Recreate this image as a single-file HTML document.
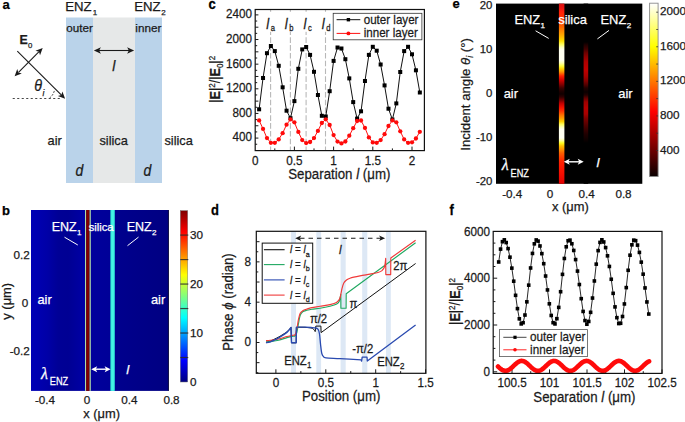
<!DOCTYPE html>
<html><head><meta charset="utf-8"><style>
html,body{margin:0;padding:0;background:#fff;width:685px;height:422px;overflow:hidden}
svg{display:block}
text{font-family:"Liberation Sans", sans-serif;paint-order:stroke;stroke:currentColor;stroke-width:0.25px}
</style></head><body>
<svg width="685" height="422" viewBox="0 0 685 422">
<defs>
<linearGradient id="bbg" x1="31" y1="0" x2="168.6" y2="0" gradientUnits="userSpaceOnUse">
<stop offset="0.0000" stop-color="#0000b6"/><stop offset="0.0509" stop-color="#0000b0"/><stop offset="0.1235" stop-color="#0000a6"/><stop offset="0.1962" stop-color="#000096"/><stop offset="0.2689" stop-color="#000093"/><stop offset="0.3416" stop-color="#00009e"/><stop offset="0.3924" stop-color="#0000a6"/><stop offset="0.4360" stop-color="#00009c"/><stop offset="0.5741" stop-color="#000098"/><stop offset="0.6105" stop-color="#00008e"/><stop offset="0.7922" stop-color="#000088"/><stop offset="1.0000" stop-color="#000082"/></linearGradient>
<linearGradient id="jet" x1="0" y1="1" x2="0" y2="0">
<stop offset="0" stop-color="#00007f"/><stop offset="0.125" stop-color="#0000ff"/><stop offset="0.375" stop-color="#00ffff"/>
<stop offset="0.625" stop-color="#ffff00"/><stop offset="0.875" stop-color="#ff0000"/><stop offset="1" stop-color="#7f0000"/></linearGradient>
<linearGradient id="hot" x1="0" y1="1" x2="0" y2="0">
<stop offset="0" stop-color="#0a0000"/><stop offset="0.375" stop-color="#ff0000"/><stop offset="0.75" stop-color="#ffff00"/><stop offset="1" stop-color="#ffffff"/></linearGradient>
<linearGradient id="es1" x1="0" y1="3.6" x2="0" y2="183.8" gradientUnits="userSpaceOnUse"><stop offset="0.0000" stop-color="#d81010"/><stop offset="0.0244" stop-color="#e81410"/><stop offset="0.0466" stop-color="#ff2008"/><stop offset="0.0744" stop-color="#ff3000"/><stop offset="0.1021" stop-color="#ff4800"/><stop offset="0.1243" stop-color="#ff6000"/><stop offset="0.1465" stop-color="#ff8000"/><stop offset="0.1798" stop-color="#ffb000"/><stop offset="0.2075" stop-color="#ffe000"/><stop offset="0.2270" stop-color="#ffff60"/><stop offset="0.2436" stop-color="#ffffc0"/><stop offset="0.2575" stop-color="#fffff0"/><stop offset="0.3130" stop-color="#fffff0"/><stop offset="0.3296" stop-color="#ffffb0"/><stop offset="0.3463" stop-color="#ffff40"/><stop offset="0.3629" stop-color="#ffd000"/><stop offset="0.3796" stop-color="#ff9000"/><stop offset="0.4018" stop-color="#ff2000"/><stop offset="0.4240" stop-color="#d00000"/><stop offset="0.4495" stop-color="#800000"/><stop offset="0.4684" stop-color="#400000"/><stop offset="0.4850" stop-color="#200000"/><stop offset="0.5017" stop-color="#100000"/><stop offset="0.5183" stop-color="#300000"/><stop offset="0.5350" stop-color="#700000"/><stop offset="0.5533" stop-color="#c00000"/><stop offset="0.5760" stop-color="#f01000"/><stop offset="0.5960" stop-color="#ff3000"/><stop offset="0.6182" stop-color="#ff7000"/><stop offset="0.6382" stop-color="#ffa000"/><stop offset="0.6543" stop-color="#ffd000"/><stop offset="0.6709" stop-color="#ffff60"/><stop offset="0.6865" stop-color="#ffffc0"/><stop offset="0.6987" stop-color="#fffff0"/><stop offset="0.7458" stop-color="#fffff0"/><stop offset="0.7597" stop-color="#ffffa0"/><stop offset="0.7736" stop-color="#ffff20"/><stop offset="0.7902" stop-color="#ffc000"/><stop offset="0.8097" stop-color="#ff9000"/><stop offset="0.8291" stop-color="#ff6000"/><stop offset="0.8513" stop-color="#ff4000"/><stop offset="0.8790" stop-color="#ff2000"/><stop offset="0.9345" stop-color="#f81000"/><stop offset="1.0000" stop-color="#e00000"/></linearGradient>
<linearGradient id="es2" x1="0" y1="3.6" x2="0" y2="183.8" gradientUnits="userSpaceOnUse"><stop offset="0.0000" stop-color="#000000"/><stop offset="0.2131" stop-color="#000000"/><stop offset="0.2297" stop-color="#200000"/><stop offset="0.2519" stop-color="#400000"/><stop offset="0.2741" stop-color="#700000"/><stop offset="0.2963" stop-color="#900000"/><stop offset="0.3241" stop-color="#b00000"/><stop offset="0.3685" stop-color="#c00000"/><stop offset="0.4018" stop-color="#a80000"/><stop offset="0.4295" stop-color="#800000"/><stop offset="0.4517" stop-color="#500000"/><stop offset="0.4684" stop-color="#200000"/><stop offset="0.4906" stop-color="#0a0000"/><stop offset="0.5072" stop-color="#200000"/><stop offset="0.5239" stop-color="#600000"/><stop offset="0.5461" stop-color="#a00000"/><stop offset="0.5794" stop-color="#b40000"/><stop offset="0.6127" stop-color="#a80000"/><stop offset="0.6349" stop-color="#800000"/><stop offset="0.6626" stop-color="#600000"/><stop offset="0.6903" stop-color="#400000"/><stop offset="0.7236" stop-color="#200000"/><stop offset="0.7514" stop-color="#100000"/><stop offset="0.7736" stop-color="#000000"/><stop offset="1.0000" stop-color="#000000"/></linearGradient>

</defs>
<text transform="translate(2.5 8.6) scale(1.0000 1)" font-size="13.00" text-anchor="start" font-weight="bold" font-style="normal" fill="#000" color="#000">a</text>
<rect x="66" y="17.5" width="27" height="165.5" fill="#bad3ea" stroke="none" stroke-width="1"/>
<rect x="93" y="17.5" width="42" height="165.5" fill="#e6e8e8" stroke="none" stroke-width="1"/>
<rect x="135" y="17.5" width="27" height="165.5" fill="#bad3ea" stroke="none" stroke-width="1"/>
<text transform="translate(65.2 10.8) scale(1.0000 1)" font-size="13.20" text-anchor="start" font-weight="normal" font-style="normal" fill="#1a1a1a" color="#1a1a1a">ENZ<tspan font-size="8.00" dy="3.8" dx="1.1">1</tspan></text>
<text transform="translate(134.2 10.8) scale(1.0000 1)" font-size="13.20" text-anchor="start" font-weight="normal" font-style="normal" fill="#1a1a1a" color="#1a1a1a">ENZ<tspan font-size="8.00" dy="3.8" dx="0.6">2</tspan></text>
<text transform="translate(66.3 31.6) scale(1.0000 1)" font-size="11.70" text-anchor="start" font-weight="normal" font-style="normal" fill="#1a1a1a" color="#1a1a1a">outer</text>
<text transform="translate(135.3 31.6) scale(1.0000 1)" font-size="11.70" text-anchor="start" font-weight="normal" font-style="normal" fill="#1a1a1a" color="#1a1a1a">inner</text>
<line x1="99" y1="50.5" x2="129" y2="50.5" stroke="#1a1a1a" stroke-width="1.1"/>
<path d="M93.90,50.50 L100.90,47.30 L99.15,50.50 L100.90,53.70 Z" fill="#1a1a1a"/>
<path d="M134.10,50.50 L127.10,53.70 L128.85,50.50 L127.10,47.30 Z" fill="#1a1a1a"/>
<text transform="translate(112.3 71.0) scale(1.0000 1)" font-size="14.00" text-anchor="start" font-weight="normal" font-style="italic" fill="#1a1a1a" color="#1a1a1a">l</text>
<line x1="17.3" y1="51.1" x2="61.5" y2="95.2" stroke="#1a1a1a" stroke-width="1.1"/>
<path d="M65.10,98.80 L57.88,96.12 L61.38,95.09 L62.41,91.59 Z" fill="#1a1a1a"/>
<line x1="18.5" y1="72.3" x2="38.8" y2="51.9" stroke="#1a1a1a" stroke-width="1.1"/>
<path d="M42.70,48.00 L40.03,55.22 L38.99,51.72 L35.49,50.70 Z" fill="#1a1a1a"/>
<path d="M14.60,76.20 L17.27,68.98 L18.31,72.48 L21.81,73.50 Z" fill="#1a1a1a"/>
<line x1="12.7" y1="98.5" x2="60" y2="98.5" stroke="#333" stroke-width="0.9" stroke-dasharray="2.1,2.4"/>
<path d="M49.6,98 Q53.2,95.2 54.4,90.6" fill="none" stroke="#333" stroke-width="0.9" stroke-linejoin="round" stroke-dasharray="2.0,1.3"/>
<text transform="translate(19.6 44.0) scale(1.0000 1)" font-size="12.40" text-anchor="start" font-weight="bold" font-style="normal" fill="#1a1a1a" color="#1a1a1a">E</text>
<text transform="translate(28.1 48.4) scale(1.0000 1)" font-size="7.80" text-anchor="start" font-weight="normal" font-style="normal" fill="#1a1a1a" color="#1a1a1a">0</text>
<text transform="translate(34.2 90.6) scale(0.8929 1)" font-size="16.02" text-anchor="start" font-weight="normal" font-style="italic" fill="#1a1a1a" color="#1a1a1a">θ</text>
<text transform="translate(42.6 95.8) scale(1.0000 1)" font-size="8.50" text-anchor="start" font-weight="normal" font-style="italic" fill="#1a1a1a" color="#1a1a1a">i</text>
<text transform="translate(47.6 145.2) scale(1.0000 1)" font-size="12.80" text-anchor="start" font-weight="normal" font-style="normal" fill="#1a1a1a" color="#1a1a1a">air</text>
<text transform="translate(99.4 145.2) scale(1.0000 1)" font-size="12.80" text-anchor="start" font-weight="normal" font-style="normal" fill="#1a1a1a" color="#1a1a1a">silica</text>
<text transform="translate(164.4 145.2) scale(1.0000 1)" font-size="12.80" text-anchor="start" font-weight="normal" font-style="normal" fill="#1a1a1a" color="#1a1a1a">silica</text>
<text transform="translate(75.6 175.5) scale(0.8929 1)" font-size="15.68" text-anchor="start" font-weight="normal" font-style="italic" fill="#1a1a1a" color="#1a1a1a">d</text>
<text transform="translate(143.6 175.5) scale(0.8929 1)" font-size="15.68" text-anchor="start" font-weight="normal" font-style="italic" fill="#1a1a1a" color="#1a1a1a">d</text>
<text transform="translate(1.9 215.4) scale(1.0000 1)" font-size="13.00" text-anchor="start" font-weight="bold" font-style="normal" fill="#000" color="#000">b</text>
<rect x="31" y="210" width="137.6" height="180.9" fill="url(#bbg)" stroke="none" stroke-width="1"/>
<rect x="85" y="210" width="1.2" height="180.9" fill="#b0dca8" stroke="none" stroke-width="1"/>
<rect x="86.2" y="210" width="3.4" height="180.9" fill="#800000" stroke="none" stroke-width="1"/>
<rect x="89.6" y="210" width="1.2" height="180.9" fill="#b0dca8" stroke="none" stroke-width="1"/>
<rect x="110.4" y="210" width="4.4" height="180.9" fill="#30e6d6" stroke="none" stroke-width="1"/>
<rect x="111.4" y="210" width="2.4" height="180.9" fill="#44f4e4" stroke="none" stroke-width="1"/>
<text transform="translate(51.7 230.8) scale(1.0000 1)" font-size="12.50" text-anchor="start" font-weight="normal" font-style="normal" fill="#ffffff" color="#ffffff">ENZ<tspan font-size="8.00" dy="4.3" dx="0.4">1</tspan></text>
<text transform="translate(88.7 230.6) scale(1.0000 1)" font-size="11.20" text-anchor="start" font-weight="normal" font-style="normal" fill="#ffffff" color="#ffffff">silica</text>
<text transform="translate(126.7 230.6) scale(1.0000 1)" font-size="12.50" text-anchor="start" font-weight="normal" font-style="normal" fill="#ffffff" color="#ffffff">ENZ<tspan font-size="8.00" dy="4.3" dx="0.4">2</tspan></text>
<line x1="64.5" y1="237.2" x2="77.8" y2="245" stroke="#ffffff" stroke-width="1"/>
<line x1="138.5" y1="237.1" x2="127.5" y2="245.7" stroke="#ffffff" stroke-width="1"/>
<text transform="translate(37.5 304.2) scale(1.0000 1)" font-size="12.80" text-anchor="start" font-weight="normal" font-style="normal" fill="#ffffff" color="#ffffff">air</text>
<text transform="translate(151 304.2) scale(1.0000 1)" font-size="12.80" text-anchor="start" font-weight="normal" font-style="normal" fill="#ffffff" color="#ffffff">air</text>
<text transform="translate(41.0 378.9) scale(1.0000 1)" font-size="16.00" text-anchor="start" font-weight="normal" font-style="italic" fill="#ffffff" color="#ffffff" style="font-family:Liberation Serif">λ</text>
<text transform="translate(49.8 384.5) scale(0.8696 1)" font-size="10.58" text-anchor="start" font-weight="normal" font-style="normal" fill="#ffffff" color="#ffffff">ENZ</text>
<line x1="95" y1="369.2" x2="107" y2="369.2" stroke="#ffffff" stroke-width="1.4"/>
<path d="M91.20,369.20 L97.20,366.20 L95.70,369.20 L97.20,372.20 Z" fill="#ffffff"/>
<path d="M110.60,369.20 L104.60,372.20 L106.10,369.20 L104.60,366.20 Z" fill="#ffffff"/>
<text transform="translate(126.2 374.2) scale(1.0000 1)" font-size="13.50" text-anchor="start" font-weight="normal" font-style="italic" fill="#ffffff" color="#ffffff">l</text>
<rect x="180.3" y="210.6" width="7.4" height="171.4" fill="url(#jet)" stroke="#777" stroke-width="0.5"/>
<line x1="168.4" y1="210" x2="168.4" y2="390.9" stroke="#000030" stroke-width="0.9"/>
<line x1="180.3" y1="357.51428571428573" x2="188.3" y2="357.51428571428573" stroke="#2a2a2a" stroke-width="1.2" stroke-opacity="0.85"/>
<line x1="180.3" y1="333.0285714285714" x2="188.3" y2="333.0285714285714" stroke="#2a2a2a" stroke-width="1.2" stroke-opacity="0.85"/>
<line x1="180.3" y1="308.54285714285714" x2="188.3" y2="308.54285714285714" stroke="#2a2a2a" stroke-width="1.2" stroke-opacity="0.85"/>
<line x1="180.3" y1="284.0571428571429" x2="188.3" y2="284.0571428571429" stroke="#2a2a2a" stroke-width="1.2" stroke-opacity="0.85"/>
<line x1="180.3" y1="259.57142857142856" x2="188.3" y2="259.57142857142856" stroke="#2a2a2a" stroke-width="1.2" stroke-opacity="0.85"/>
<line x1="180.3" y1="235.0857142857143" x2="188.3" y2="235.0857142857143" stroke="#2a2a2a" stroke-width="1.2" stroke-opacity="0.85"/>
<text transform="translate(190 386.2) scale(1.0000 1)" font-size="11.70" text-anchor="start" font-weight="normal" font-style="normal" fill="#1a1a1a" color="#1a1a1a">0</text>
<text transform="translate(190 337.2285714285714) scale(1.0000 1)" font-size="11.70" text-anchor="start" font-weight="normal" font-style="normal" fill="#1a1a1a" color="#1a1a1a">10</text>
<text transform="translate(190 288.25714285714287) scale(1.0000 1)" font-size="11.70" text-anchor="start" font-weight="normal" font-style="normal" fill="#1a1a1a" color="#1a1a1a">20</text>
<text transform="translate(190 239.28571428571428) scale(1.0000 1)" font-size="11.70" text-anchor="start" font-weight="normal" font-style="normal" fill="#1a1a1a" color="#1a1a1a">30</text>
<text transform="translate(29.8 259.1) scale(1.0000 1)" font-size="11.70" text-anchor="end" font-weight="normal" font-style="normal" fill="#1a1a1a" color="#1a1a1a">0.2</text>
<text transform="translate(28.3 307.2) scale(1.0000 1)" font-size="11.70" text-anchor="end" font-weight="normal" font-style="normal" fill="#1a1a1a" color="#1a1a1a">0</text>
<text transform="translate(29.8 355.2) scale(1.0000 1)" font-size="11.70" text-anchor="end" font-weight="normal" font-style="normal" fill="#1a1a1a" color="#1a1a1a">-0.2</text>
<text transform="translate(45 404.2) scale(1.0000 1)" font-size="11.70" text-anchor="middle" font-weight="normal" font-style="normal" fill="#1a1a1a" color="#1a1a1a">-0.4</text>
<text transform="translate(87 404.2) scale(1.0000 1)" font-size="11.70" text-anchor="middle" font-weight="normal" font-style="normal" fill="#1a1a1a" color="#1a1a1a">0</text>
<text transform="translate(129.3 404.2) scale(1.0000 1)" font-size="11.70" text-anchor="middle" font-weight="normal" font-style="normal" fill="#1a1a1a" color="#1a1a1a">0.4</text>
<text transform="translate(171.5 404.2) scale(1.0000 1)" font-size="11.70" text-anchor="middle" font-weight="normal" font-style="normal" fill="#1a1a1a" color="#1a1a1a">0.8</text>
<text transform="translate(83.2 417.8) scale(1.0000 1)" font-size="12.90" text-anchor="start" font-weight="normal" font-style="normal" fill="#1a1a1a" color="#1a1a1a">x (μm)</text>
<text transform="translate(11.2 301.3) rotate(-90) scale(1.0000 1)" font-size="12.90" text-anchor="middle" font-weight="normal" font-style="normal" fill="#1a1a1a" color="#1a1a1a">y (μm)</text>
<text transform="translate(208.5 8.7) scale(0.9091 1)" font-size="14.30" text-anchor="start" font-weight="bold" font-style="normal" fill="#000" color="#000">c</text>
<line x1="270.6" y1="10.1" x2="270.6" y2="150.6" stroke="#b8b8b8" stroke-width="1.1" stroke-dasharray="5.6,2.2" stroke-dashoffset="4.0"/>
<rect x="269.1" y="12.6" width="3" height="19.2" fill="#fff" stroke="none" stroke-width="1"/>
<line x1="290.4" y1="10.1" x2="290.4" y2="150.6" stroke="#b8b8b8" stroke-width="1.1" stroke-dasharray="5.6,2.2" stroke-dashoffset="4.0"/>
<rect x="288.9" y="12.6" width="3" height="19.2" fill="#fff" stroke="none" stroke-width="1"/>
<line x1="306.1" y1="10.1" x2="306.1" y2="150.6" stroke="#b8b8b8" stroke-width="1.1" stroke-dasharray="5.6,2.2" stroke-dashoffset="4.0"/>
<rect x="304.6" y="12.6" width="3" height="19.2" fill="#fff" stroke="none" stroke-width="1"/>
<line x1="325.5" y1="10.1" x2="325.5" y2="150.6" stroke="#b8b8b8" stroke-width="1.1" stroke-dasharray="5.6,2.2" stroke-dashoffset="4.0"/>
<rect x="324.0" y="12.6" width="3" height="19.2" fill="#fff" stroke="none" stroke-width="1"/>
<line x1="255.2" y1="144.24" x2="257.2" y2="144.24" stroke="#1a1a1a" stroke-width="1"/>
<line x1="255.2" y1="138.08" x2="258.4" y2="138.08" stroke="#1a1a1a" stroke-width="1"/>
<line x1="255.2" y1="131.92000000000002" x2="257.2" y2="131.92000000000002" stroke="#1a1a1a" stroke-width="1"/>
<line x1="255.2" y1="125.76" x2="258.4" y2="125.76" stroke="#1a1a1a" stroke-width="1"/>
<line x1="255.2" y1="119.60000000000001" x2="257.2" y2="119.60000000000001" stroke="#1a1a1a" stroke-width="1"/>
<line x1="255.2" y1="113.44" x2="258.4" y2="113.44" stroke="#1a1a1a" stroke-width="1"/>
<line x1="255.2" y1="107.28" x2="257.2" y2="107.28" stroke="#1a1a1a" stroke-width="1"/>
<line x1="255.2" y1="101.12" x2="258.4" y2="101.12" stroke="#1a1a1a" stroke-width="1"/>
<line x1="255.2" y1="94.96000000000001" x2="257.2" y2="94.96000000000001" stroke="#1a1a1a" stroke-width="1"/>
<line x1="255.2" y1="88.80000000000001" x2="258.4" y2="88.80000000000001" stroke="#1a1a1a" stroke-width="1"/>
<line x1="255.2" y1="82.64" x2="257.2" y2="82.64" stroke="#1a1a1a" stroke-width="1"/>
<line x1="255.2" y1="76.48" x2="258.4" y2="76.48" stroke="#1a1a1a" stroke-width="1"/>
<line x1="255.2" y1="70.32000000000001" x2="257.2" y2="70.32000000000001" stroke="#1a1a1a" stroke-width="1"/>
<line x1="255.2" y1="64.16" x2="258.4" y2="64.16" stroke="#1a1a1a" stroke-width="1"/>
<line x1="255.2" y1="58.0" x2="257.2" y2="58.0" stroke="#1a1a1a" stroke-width="1"/>
<line x1="255.2" y1="51.84" x2="258.4" y2="51.84" stroke="#1a1a1a" stroke-width="1"/>
<line x1="255.2" y1="45.68000000000001" x2="257.2" y2="45.68000000000001" stroke="#1a1a1a" stroke-width="1"/>
<line x1="255.2" y1="39.519999999999996" x2="258.4" y2="39.519999999999996" stroke="#1a1a1a" stroke-width="1"/>
<line x1="255.2" y1="33.36" x2="257.2" y2="33.36" stroke="#1a1a1a" stroke-width="1"/>
<line x1="255.2" y1="27.200000000000003" x2="258.4" y2="27.200000000000003" stroke="#1a1a1a" stroke-width="1"/>
<line x1="255.2" y1="21.039999999999992" x2="257.2" y2="21.039999999999992" stroke="#1a1a1a" stroke-width="1"/>
<line x1="255.2" y1="14.879999999999995" x2="258.4" y2="14.879999999999995" stroke="#1a1a1a" stroke-width="1"/>
<line x1="274.8" y1="150.6" x2="274.8" y2="148.4" stroke="#1a1a1a" stroke-width="1"/>
<line x1="294.4" y1="150.6" x2="294.4" y2="146.6" stroke="#1a1a1a" stroke-width="1"/>
<line x1="314.0" y1="150.6" x2="314.0" y2="148.4" stroke="#1a1a1a" stroke-width="1"/>
<line x1="333.6" y1="150.6" x2="333.6" y2="146.6" stroke="#1a1a1a" stroke-width="1"/>
<line x1="353.2" y1="150.6" x2="353.2" y2="148.4" stroke="#1a1a1a" stroke-width="1"/>
<line x1="372.8" y1="150.6" x2="372.8" y2="146.6" stroke="#1a1a1a" stroke-width="1"/>
<line x1="392.4" y1="150.6" x2="392.4" y2="148.4" stroke="#1a1a1a" stroke-width="1"/>
<line x1="412.0" y1="150.6" x2="412.0" y2="146.6" stroke="#1a1a1a" stroke-width="1"/>
<text transform="translate(251.9 141.48000000000002) scale(0.9091 1)" font-size="12.87" text-anchor="end" font-weight="normal" font-style="normal" fill="#1a1a1a" color="#1a1a1a">400</text>
<text transform="translate(251.9 116.84) scale(0.9091 1)" font-size="12.87" text-anchor="end" font-weight="normal" font-style="normal" fill="#1a1a1a" color="#1a1a1a">800</text>
<text transform="translate(251.9 92.20000000000002) scale(0.9091 1)" font-size="12.87" text-anchor="end" font-weight="normal" font-style="normal" fill="#1a1a1a" color="#1a1a1a">1200</text>
<text transform="translate(251.9 67.56) scale(0.9091 1)" font-size="12.87" text-anchor="end" font-weight="normal" font-style="normal" fill="#1a1a1a" color="#1a1a1a">1600</text>
<text transform="translate(251.9 42.919999999999995) scale(0.9091 1)" font-size="12.87" text-anchor="end" font-weight="normal" font-style="normal" fill="#1a1a1a" color="#1a1a1a">2000</text>
<text transform="translate(251.9 18.279999999999994) scale(0.9091 1)" font-size="12.87" text-anchor="end" font-weight="normal" font-style="normal" fill="#1a1a1a" color="#1a1a1a">2400</text>
<text transform="translate(255.2 165.3) scale(0.9091 1)" font-size="12.87" text-anchor="middle" font-weight="normal" font-style="normal" fill="#1a1a1a" color="#1a1a1a">0</text>
<text transform="translate(294.4 165.3) scale(0.9091 1)" font-size="12.87" text-anchor="middle" font-weight="normal" font-style="normal" fill="#1a1a1a" color="#1a1a1a">0.5</text>
<text transform="translate(333.6 165.3) scale(0.9091 1)" font-size="12.87" text-anchor="middle" font-weight="normal" font-style="normal" fill="#1a1a1a" color="#1a1a1a">1</text>
<text transform="translate(372.8 165.3) scale(0.9091 1)" font-size="12.87" text-anchor="middle" font-weight="normal" font-style="normal" fill="#1a1a1a" color="#1a1a1a">1.5</text>
<text transform="translate(412.0 165.3) scale(0.9091 1)" font-size="12.87" text-anchor="middle" font-weight="normal" font-style="normal" fill="#1a1a1a" color="#1a1a1a">2</text>
<text transform="translate(288.2 178.8) scale(0.9091 1)" font-size="14.63" text-anchor="start" font-weight="normal" font-style="normal" fill="#1a1a1a" color="#1a1a1a">Separation <tspan font-style="italic">l</tspan> (μm)</text>
<text transform="translate(220.4 79.3) rotate(-90) scale(0.9091 1)" font-size="13.86" text-anchor="middle" font-weight="normal" font-style="normal" fill="#1a1a1a" color="#1a1a1a">|<tspan font-weight="bold">E</tspan>|<tspan font-size="8.80" dy="-5" dx="0">2</tspan><tspan dy="5">/|</tspan><tspan font-weight="bold">E</tspan><tspan font-size="8.80" dy="3" dx="0">0</tspan><tspan dy="-3">|</tspan><tspan font-size="8.80" dy="-5" dx="0">2</tspan></text>
<text transform="translate(266.3 28.7) scale(0.9091 1)" font-size="14.30" text-anchor="start" font-weight="normal" font-style="italic" fill="#1a1a1a" color="#1a1a1a">l</text>
<text transform="translate(270.8 30.8) scale(0.9091 1)" font-size="8.36" text-anchor="start" font-weight="normal" font-style="normal" fill="#1a1a1a" color="#1a1a1a">a</text>
<text transform="translate(284.8 28.7) scale(0.9091 1)" font-size="14.30" text-anchor="start" font-weight="normal" font-style="italic" fill="#1a1a1a" color="#1a1a1a">l</text>
<text transform="translate(289.3 30.8) scale(0.9091 1)" font-size="8.36" text-anchor="start" font-weight="normal" font-style="normal" fill="#1a1a1a" color="#1a1a1a">b</text>
<text transform="translate(303.6 28.7) scale(0.9091 1)" font-size="14.30" text-anchor="start" font-weight="normal" font-style="italic" fill="#1a1a1a" color="#1a1a1a">l</text>
<text transform="translate(308.1 30.8) scale(0.9091 1)" font-size="8.36" text-anchor="start" font-weight="normal" font-style="normal" fill="#1a1a1a" color="#1a1a1a">c</text>
<text transform="translate(321.7 28.7) scale(0.9091 1)" font-size="14.30" text-anchor="start" font-weight="normal" font-style="italic" fill="#1a1a1a" color="#1a1a1a">l</text>
<text transform="translate(326.2 30.8) scale(0.9091 1)" font-size="8.36" text-anchor="start" font-weight="normal" font-style="normal" fill="#1a1a1a" color="#1a1a1a">d</text>
<polyline points="259.12,109.30 263.04,78.00 266.96,53.20 270.88,46.00 274.80,51.10 278.72,65.80 282.64,87.30 286.56,110.70 290.48,118.20 294.40,101.10 298.32,68.80 302.24,49.40 306.16,47.00 310.08,54.90 314.00,71.80 317.92,95.00 321.84,115.80 325.76,116.50 329.68,91.20 333.60,60.90 337.52,47.50 341.44,48.50 345.36,59.20 349.28,78.40 353.20,102.10 357.12,118.60 361.04,111.30 364.96,81.00 368.88,54.90 372.80,46.80 376.72,50.70 380.64,64.50 384.56,85.40 388.48,108.70 392.40,119.50 396.32,103.40 400.24,72.00 404.16,51.10 408.08,46.80 412.00,54.30 415.92,70.30 419.84,92.50" fill="none" stroke="#111" stroke-width="1.0" stroke-linejoin="round"/>
<polyline points="259.12,120.40 263.04,128.90 266.96,138.10 270.88,142.80 274.80,142.80 278.72,139.40 282.64,133.20 286.56,124.70 290.48,119.40 294.40,122.30 298.32,131.90 302.24,140.10 306.16,143.10 310.08,142.00 314.00,138.10 317.92,130.90 321.84,123.00 325.76,119.30 329.68,125.00 333.60,135.10 337.52,141.60 341.44,143.40 345.36,141.50 349.28,135.70 353.20,128.20 357.12,121.00 361.04,120.50 364.96,127.90 368.88,137.40 372.80,142.40 376.72,142.80 380.64,140.10 384.56,134.20 388.48,126.00 392.40,120.40 396.32,122.30 400.24,131.30 404.16,139.40 408.08,142.80 412.00,142.30 415.92,138.50 419.84,131.80" fill="none" stroke="#ff1010" stroke-width="1.0" stroke-linejoin="round"/>
<rect x="257.12" y="107.3" width="4.0" height="4.0" fill="#000" stroke="none" stroke-width="1"/>
<rect x="261.03999999999996" y="76.0" width="4.0" height="4.0" fill="#000" stroke="none" stroke-width="1"/>
<rect x="264.96" y="51.2" width="4.0" height="4.0" fill="#000" stroke="none" stroke-width="1"/>
<rect x="268.88" y="44.0" width="4.0" height="4.0" fill="#000" stroke="none" stroke-width="1"/>
<rect x="272.8" y="49.1" width="4.0" height="4.0" fill="#000" stroke="none" stroke-width="1"/>
<rect x="276.71999999999997" y="63.8" width="4.0" height="4.0" fill="#000" stroke="none" stroke-width="1"/>
<rect x="280.64" y="85.3" width="4.0" height="4.0" fill="#000" stroke="none" stroke-width="1"/>
<rect x="284.56" y="108.7" width="4.0" height="4.0" fill="#000" stroke="none" stroke-width="1"/>
<rect x="288.48" y="116.2" width="4.0" height="4.0" fill="#000" stroke="none" stroke-width="1"/>
<rect x="292.4" y="99.1" width="4.0" height="4.0" fill="#000" stroke="none" stroke-width="1"/>
<rect x="296.32" y="66.8" width="4.0" height="4.0" fill="#000" stroke="none" stroke-width="1"/>
<rect x="300.24" y="47.4" width="4.0" height="4.0" fill="#000" stroke="none" stroke-width="1"/>
<rect x="304.15999999999997" y="45.0" width="4.0" height="4.0" fill="#000" stroke="none" stroke-width="1"/>
<rect x="308.08" y="52.9" width="4.0" height="4.0" fill="#000" stroke="none" stroke-width="1"/>
<rect x="312.0" y="69.8" width="4.0" height="4.0" fill="#000" stroke="none" stroke-width="1"/>
<rect x="315.92" y="93.0" width="4.0" height="4.0" fill="#000" stroke="none" stroke-width="1"/>
<rect x="319.84000000000003" y="113.8" width="4.0" height="4.0" fill="#000" stroke="none" stroke-width="1"/>
<rect x="323.76" y="114.5" width="4.0" height="4.0" fill="#000" stroke="none" stroke-width="1"/>
<rect x="327.68" y="89.2" width="4.0" height="4.0" fill="#000" stroke="none" stroke-width="1"/>
<rect x="331.6" y="58.9" width="4.0" height="4.0" fill="#000" stroke="none" stroke-width="1"/>
<rect x="335.52" y="45.5" width="4.0" height="4.0" fill="#000" stroke="none" stroke-width="1"/>
<rect x="339.44" y="46.5" width="4.0" height="4.0" fill="#000" stroke="none" stroke-width="1"/>
<rect x="343.36" y="57.2" width="4.0" height="4.0" fill="#000" stroke="none" stroke-width="1"/>
<rect x="347.28000000000003" y="76.4" width="4.0" height="4.0" fill="#000" stroke="none" stroke-width="1"/>
<rect x="351.2" y="100.1" width="4.0" height="4.0" fill="#000" stroke="none" stroke-width="1"/>
<rect x="355.12" y="116.6" width="4.0" height="4.0" fill="#000" stroke="none" stroke-width="1"/>
<rect x="359.04" y="109.3" width="4.0" height="4.0" fill="#000" stroke="none" stroke-width="1"/>
<rect x="362.96000000000004" y="79.0" width="4.0" height="4.0" fill="#000" stroke="none" stroke-width="1"/>
<rect x="366.88" y="52.9" width="4.0" height="4.0" fill="#000" stroke="none" stroke-width="1"/>
<rect x="370.8" y="44.8" width="4.0" height="4.0" fill="#000" stroke="none" stroke-width="1"/>
<rect x="374.72" y="48.7" width="4.0" height="4.0" fill="#000" stroke="none" stroke-width="1"/>
<rect x="378.64" y="62.5" width="4.0" height="4.0" fill="#000" stroke="none" stroke-width="1"/>
<rect x="382.56" y="83.4" width="4.0" height="4.0" fill="#000" stroke="none" stroke-width="1"/>
<rect x="386.48" y="106.7" width="4.0" height="4.0" fill="#000" stroke="none" stroke-width="1"/>
<rect x="390.4" y="117.5" width="4.0" height="4.0" fill="#000" stroke="none" stroke-width="1"/>
<rect x="394.32" y="101.4" width="4.0" height="4.0" fill="#000" stroke="none" stroke-width="1"/>
<rect x="398.24" y="70.0" width="4.0" height="4.0" fill="#000" stroke="none" stroke-width="1"/>
<rect x="402.15999999999997" y="49.1" width="4.0" height="4.0" fill="#000" stroke="none" stroke-width="1"/>
<rect x="406.08000000000004" y="44.8" width="4.0" height="4.0" fill="#000" stroke="none" stroke-width="1"/>
<rect x="410.0" y="52.3" width="4.0" height="4.0" fill="#000" stroke="none" stroke-width="1"/>
<rect x="413.92" y="68.3" width="4.0" height="4.0" fill="#000" stroke="none" stroke-width="1"/>
<rect x="417.84000000000003" y="90.5" width="4.0" height="4.0" fill="#000" stroke="none" stroke-width="1"/>
<circle cx="259.12" cy="120.40" r="2.15" fill="#ff0a0a"/>
<circle cx="263.04" cy="128.90" r="2.15" fill="#ff0a0a"/>
<circle cx="266.96" cy="138.10" r="2.15" fill="#ff0a0a"/>
<circle cx="270.88" cy="142.80" r="2.15" fill="#ff0a0a"/>
<circle cx="274.80" cy="142.80" r="2.15" fill="#ff0a0a"/>
<circle cx="278.72" cy="139.40" r="2.15" fill="#ff0a0a"/>
<circle cx="282.64" cy="133.20" r="2.15" fill="#ff0a0a"/>
<circle cx="286.56" cy="124.70" r="2.15" fill="#ff0a0a"/>
<circle cx="290.48" cy="119.40" r="2.15" fill="#ff0a0a"/>
<circle cx="294.40" cy="122.30" r="2.15" fill="#ff0a0a"/>
<circle cx="298.32" cy="131.90" r="2.15" fill="#ff0a0a"/>
<circle cx="302.24" cy="140.10" r="2.15" fill="#ff0a0a"/>
<circle cx="306.16" cy="143.10" r="2.15" fill="#ff0a0a"/>
<circle cx="310.08" cy="142.00" r="2.15" fill="#ff0a0a"/>
<circle cx="314.00" cy="138.10" r="2.15" fill="#ff0a0a"/>
<circle cx="317.92" cy="130.90" r="2.15" fill="#ff0a0a"/>
<circle cx="321.84" cy="123.00" r="2.15" fill="#ff0a0a"/>
<circle cx="325.76" cy="119.30" r="2.15" fill="#ff0a0a"/>
<circle cx="329.68" cy="125.00" r="2.15" fill="#ff0a0a"/>
<circle cx="333.60" cy="135.10" r="2.15" fill="#ff0a0a"/>
<circle cx="337.52" cy="141.60" r="2.15" fill="#ff0a0a"/>
<circle cx="341.44" cy="143.40" r="2.15" fill="#ff0a0a"/>
<circle cx="345.36" cy="141.50" r="2.15" fill="#ff0a0a"/>
<circle cx="349.28" cy="135.70" r="2.15" fill="#ff0a0a"/>
<circle cx="353.20" cy="128.20" r="2.15" fill="#ff0a0a"/>
<circle cx="357.12" cy="121.00" r="2.15" fill="#ff0a0a"/>
<circle cx="361.04" cy="120.50" r="2.15" fill="#ff0a0a"/>
<circle cx="364.96" cy="127.90" r="2.15" fill="#ff0a0a"/>
<circle cx="368.88" cy="137.40" r="2.15" fill="#ff0a0a"/>
<circle cx="372.80" cy="142.40" r="2.15" fill="#ff0a0a"/>
<circle cx="376.72" cy="142.80" r="2.15" fill="#ff0a0a"/>
<circle cx="380.64" cy="140.10" r="2.15" fill="#ff0a0a"/>
<circle cx="384.56" cy="134.20" r="2.15" fill="#ff0a0a"/>
<circle cx="388.48" cy="126.00" r="2.15" fill="#ff0a0a"/>
<circle cx="392.40" cy="120.40" r="2.15" fill="#ff0a0a"/>
<circle cx="396.32" cy="122.30" r="2.15" fill="#ff0a0a"/>
<circle cx="400.24" cy="131.30" r="2.15" fill="#ff0a0a"/>
<circle cx="404.16" cy="139.40" r="2.15" fill="#ff0a0a"/>
<circle cx="408.08" cy="142.80" r="2.15" fill="#ff0a0a"/>
<circle cx="412.00" cy="142.30" r="2.15" fill="#ff0a0a"/>
<circle cx="415.92" cy="138.50" r="2.15" fill="#ff0a0a"/>
<circle cx="419.84" cy="131.80" r="2.15" fill="#ff0a0a"/>
<rect x="333.2" y="13.3" width="88.7" height="26.5" fill="#fff" stroke="#333" stroke-width="0.8"/>
<line x1="336.6" y1="19.7" x2="360.3" y2="19.7" stroke="#111" stroke-width="1"/>
<rect x="346.7" y="18.0" width="3.4" height="3.4" fill="#000" stroke="none" stroke-width="1"/>
<line x1="336.6" y1="33.4" x2="360.3" y2="33.4" stroke="#ff1010" stroke-width="1"/>
<circle cx="348.4" cy="33.4" r="1.95" fill="#ff0a0a"/>
<text transform="translate(363.7 23.6) scale(0.9091 1)" font-size="12.76" text-anchor="start" font-weight="normal" font-style="normal" fill="#1a1a1a" color="#1a1a1a">outer layer</text>
<text transform="translate(363.7 37.3) scale(0.9091 1)" font-size="12.76" text-anchor="start" font-weight="normal" font-style="normal" fill="#1a1a1a" color="#1a1a1a">inner layer</text>
<rect x="255.2" y="9.5" width="169.2" height="141.1" fill="none" stroke="#111" stroke-width="1.2"/>
<text transform="translate(211.1 215.2) scale(0.9091 1)" font-size="14.30" text-anchor="start" font-weight="bold" font-style="normal" fill="#000" color="#000">d</text>
<rect x="291.1" y="231.3" width="4.899999999999977" height="142.0" fill="#dde8f5" stroke="none" stroke-width="1"/>
<rect x="316.3" y="231.3" width="4.800000000000011" height="142.0" fill="#dde8f5" stroke="none" stroke-width="1"/>
<rect x="340.6" y="231.3" width="5.099999999999966" height="142.0" fill="#dde8f5" stroke="none" stroke-width="1"/>
<rect x="362.2" y="231.3" width="5.100000000000023" height="142.0" fill="#dde8f5" stroke="none" stroke-width="1"/>
<rect x="386.0" y="231.3" width="4.800000000000011" height="142.0" fill="#dde8f5" stroke="none" stroke-width="1"/>
<line x1="256.3" y1="372.74" x2="258.3" y2="372.74" stroke="#1a1a1a" stroke-width="1"/>
<line x1="256.3" y1="362.66" x2="259.5" y2="362.66" stroke="#1a1a1a" stroke-width="1"/>
<line x1="256.3" y1="352.58" x2="258.3" y2="352.58" stroke="#1a1a1a" stroke-width="1"/>
<line x1="256.3" y1="342.5" x2="259.5" y2="342.5" stroke="#1a1a1a" stroke-width="1"/>
<line x1="256.3" y1="332.42" x2="258.3" y2="332.42" stroke="#1a1a1a" stroke-width="1"/>
<line x1="256.3" y1="322.34" x2="259.5" y2="322.34" stroke="#1a1a1a" stroke-width="1"/>
<line x1="256.3" y1="312.26" x2="258.3" y2="312.26" stroke="#1a1a1a" stroke-width="1"/>
<line x1="256.3" y1="302.18" x2="259.5" y2="302.18" stroke="#1a1a1a" stroke-width="1"/>
<line x1="256.3" y1="292.1" x2="258.3" y2="292.1" stroke="#1a1a1a" stroke-width="1"/>
<line x1="256.3" y1="282.02" x2="259.5" y2="282.02" stroke="#1a1a1a" stroke-width="1"/>
<line x1="256.3" y1="271.94" x2="258.3" y2="271.94" stroke="#1a1a1a" stroke-width="1"/>
<line x1="256.3" y1="261.86" x2="259.5" y2="261.86" stroke="#1a1a1a" stroke-width="1"/>
<line x1="256.3" y1="251.78" x2="258.3" y2="251.78" stroke="#1a1a1a" stroke-width="1"/>
<line x1="256.3" y1="241.7" x2="259.5" y2="241.7" stroke="#1a1a1a" stroke-width="1"/>
<line x1="275.9" y1="373.3" x2="275.9" y2="369.3" stroke="#1a1a1a" stroke-width="1"/>
<line x1="300.84999999999997" y1="373.3" x2="300.84999999999997" y2="371.1" stroke="#1a1a1a" stroke-width="1"/>
<line x1="325.79999999999995" y1="373.3" x2="325.79999999999995" y2="369.3" stroke="#1a1a1a" stroke-width="1"/>
<line x1="350.75" y1="373.3" x2="350.75" y2="371.1" stroke="#1a1a1a" stroke-width="1"/>
<line x1="375.7" y1="373.3" x2="375.7" y2="369.3" stroke="#1a1a1a" stroke-width="1"/>
<line x1="400.65" y1="373.3" x2="400.65" y2="371.1" stroke="#1a1a1a" stroke-width="1"/>
<line x1="425.59999999999997" y1="373.3" x2="425.59999999999997" y2="369.3" stroke="#1a1a1a" stroke-width="1"/>
<text transform="translate(251.0 346.2) scale(0.9091 1)" font-size="12.87" text-anchor="end" font-weight="normal" font-style="normal" fill="#1a1a1a" color="#1a1a1a">0</text>
<text transform="translate(251.0 305.88) scale(0.9091 1)" font-size="12.87" text-anchor="end" font-weight="normal" font-style="normal" fill="#1a1a1a" color="#1a1a1a">4</text>
<text transform="translate(251.0 265.56) scale(0.9091 1)" font-size="12.87" text-anchor="end" font-weight="normal" font-style="normal" fill="#1a1a1a" color="#1a1a1a">8</text>
<text transform="translate(275.9 386.7) scale(0.9091 1)" font-size="12.87" text-anchor="middle" font-weight="normal" font-style="normal" fill="#1a1a1a" color="#1a1a1a">0</text>
<text transform="translate(325.79999999999995 386.7) scale(0.9091 1)" font-size="12.87" text-anchor="middle" font-weight="normal" font-style="normal" fill="#1a1a1a" color="#1a1a1a">0.5</text>
<text transform="translate(375.7 386.7) scale(0.9091 1)" font-size="12.87" text-anchor="middle" font-weight="normal" font-style="normal" fill="#1a1a1a" color="#1a1a1a">1</text>
<text transform="translate(425.59999999999997 386.7) scale(0.9091 1)" font-size="12.87" text-anchor="middle" font-weight="normal" font-style="normal" fill="#1a1a1a" color="#1a1a1a">1.5</text>
<text transform="translate(301.9 400.5) scale(0.9091 1)" font-size="14.63" text-anchor="start" font-weight="normal" font-style="normal" fill="#1a1a1a" color="#1a1a1a">Position (μm)</text>
<text transform="translate(232.8 302) rotate(-90) scale(0.9091 1)" font-size="14.52" text-anchor="middle" font-weight="normal" font-style="normal" fill="#1a1a1a" color="#1a1a1a">Phase <tspan font-style="italic">ϕ</tspan> (radian)</text>
<line x1="300" y1="238.2" x2="381" y2="238.2" stroke="#1a1a1a" stroke-width="1.1" stroke-dasharray="4.5,4"/>
<path d="M295.20,238.20 L301.20,235.40 L299.70,238.20 L301.20,241.00 Z" fill="#1a1a1a"/>
<path d="M385.10,238.20 L379.10,241.00 L380.60,238.20 L379.10,235.40 Z" fill="#1a1a1a"/>
<text transform="translate(339.0 253.7) scale(0.9091 1)" font-size="12.65" text-anchor="start" font-weight="normal" font-style="italic" fill="#1a1a1a" color="#1a1a1a">l</text>
<path d="M266.00,342.20 C266.72,342.00 268.20,341.87 270.30,341.00 C272.40,340.13 275.83,338.53 278.60,337.00 C281.37,335.47 284.83,333.40 286.90,331.80 C288.97,330.20 290.32,328.13 291.00,327.40 L291.5,342.8 L296.2,342.8 L296.4,327.2 L305,327.3 L311,327.9 C313,328.4 314.3,329.6 315.2,331.6 L315.8,326.1 L320.9,326.1 L321.1,332.6 L415.6,263.5" fill="none" stroke="#111" stroke-width="1.0" stroke-linejoin="round"/>
<path d="M266.00,342.00 C266.72,341.93 268.20,341.88 270.30,341.60 C272.40,341.32 275.83,340.97 278.60,340.30 C281.37,339.63 284.67,338.25 286.90,337.60 C289.13,336.95 290.62,336.72 292.00,336.40 C293.38,336.08 294.40,336.35 295.20,335.70 C296.00,335.05 296.25,334.53 296.80,332.50 C297.35,330.47 297.93,326.38 298.50,323.50 C299.07,320.62 299.50,317.17 300.20,315.20 C300.90,313.23 301.60,312.52 302.70,311.70 C303.80,310.88 305.28,310.72 306.80,310.30 C308.32,309.88 309.58,309.53 311.80,309.20 C314.02,308.87 317.07,308.78 320.10,308.30 C323.13,307.82 327.23,307.00 330.00,306.30 C332.77,305.60 335.15,304.95 336.70,304.10 C338.25,303.25 338.62,302.83 339.30,301.20 C339.98,299.57 340.55,295.45 340.80,294.30 L340.9,308.2 L346.1,308.2 L346.2,293.7 L415.6,242.8" fill="none" stroke="#1fa860" stroke-width="1.15" stroke-linejoin="round"/>
<path d="M266.00,340.60 C266.72,340.55 268.20,340.57 270.30,340.30 C272.40,340.03 275.83,339.63 278.60,339.00 C281.37,338.37 284.67,337.10 286.90,336.50 C289.13,335.90 290.62,335.72 292.00,335.40 C293.38,335.08 294.40,335.67 295.20,334.60 C296.00,333.53 296.25,331.57 296.80,329.00 C297.35,326.43 297.93,321.82 298.50,319.20 C299.07,316.58 299.50,314.70 300.20,313.30 C300.90,311.90 301.60,311.50 302.70,310.80 C303.80,310.10 305.28,309.63 306.80,309.10 C308.32,308.57 309.58,308.07 311.80,307.60 C314.02,307.13 317.07,306.80 320.10,306.30 C323.13,305.80 327.27,305.25 330.00,304.60 C332.73,303.95 334.87,303.42 336.50,302.40 C338.13,301.38 338.88,300.82 339.80,298.50 C340.72,296.18 341.33,291.08 342.00,288.50 C342.67,285.92 343.05,284.42 343.80,283.00 C344.55,281.58 345.47,280.80 346.50,280.00 C347.53,279.20 347.75,278.88 350.00,278.20 C352.25,277.52 356.67,276.58 360.00,275.90 C363.33,275.22 367.00,274.67 370.00,274.10 C373.00,273.53 376.00,273.08 378.00,272.50 C380.00,271.92 380.90,271.60 382.00,270.60 C383.10,269.60 383.98,268.53 384.60,266.50 C385.22,264.47 385.52,259.75 385.70,258.40 L385.8,274.6 L390.7,274.6 L390.8,258.0 L415.6,240.2" fill="none" stroke="#f03a3a" stroke-width="1.15" stroke-linejoin="round"/>
<path d="M266.00,342.80 C266.72,342.63 268.20,342.63 270.30,341.80 C272.40,340.97 275.83,339.37 278.60,337.80 C281.37,336.23 284.83,334.13 286.90,332.40 C288.97,330.67 290.32,328.23 291.00,327.40 L291.5,342.8 L296.2,342.8 L296.4,327.2" fill="none" stroke="#2a4ab0" stroke-width="1.4" stroke-linejoin="round"/>
<path d="M296.40,327.20 C297.83,327.20 302.57,327.15 305.00,327.20 C307.43,327.25 309.20,327.37 311.00,327.50 C312.80,327.63 314.60,327.67 315.80,328.00 C317.00,328.33 317.58,328.50 318.20,329.50 C318.82,330.50 319.10,331.42 319.50,334.00 C319.90,336.58 320.22,341.75 320.60,345.00 C320.98,348.25 321.33,351.58 321.80,353.50 C322.27,355.42 322.70,355.77 323.40,356.50 C324.10,357.23 323.23,357.55 326.00,357.90 C328.77,358.25 334.13,358.28 340.00,358.60 C345.87,358.92 357.67,359.60 361.20,359.80 L361.6,361.2 L362.2,357.2 L367.0,357.2 L367.3,361.0 L415.6,325.0" fill="none" stroke="#2a4ab0" stroke-width="1.3" stroke-linejoin="round"/>
<text transform="translate(309.9 322.9) scale(0.9091 1)" font-size="12.43" text-anchor="start" font-weight="normal" font-style="normal" fill="#1a1a1a" color="#1a1a1a">π/2</text>
<text transform="translate(349.5 308.4) scale(0.9091 1)" font-size="12.43" text-anchor="start" font-weight="normal" font-style="normal" fill="#1a1a1a" color="#1a1a1a">π</text>
<text transform="translate(393.3 270.4) scale(0.9091 1)" font-size="12.43" text-anchor="start" font-weight="normal" font-style="normal" fill="#1a1a1a" color="#1a1a1a">2π</text>
<text transform="translate(352.3 353.0) scale(0.9091 1)" font-size="12.43" text-anchor="start" font-weight="normal" font-style="normal" fill="#1a1a1a" color="#1a1a1a">-π/2</text>
<text transform="translate(284.2 365.4) scale(0.9091 1)" font-size="12.43" text-anchor="start" font-weight="normal" font-style="normal" fill="#1a1a1a" color="#1a1a1a">ENZ<tspan font-size="8.80" dy="3" dx="0.3">1</tspan></text>
<text transform="translate(377.2 366.3) scale(0.9091 1)" font-size="12.43" text-anchor="start" font-weight="normal" font-style="normal" fill="#1a1a1a" color="#1a1a1a">ENZ<tspan font-size="8.80" dy="3" dx="0.3">2</tspan></text>
<rect x="262.2" y="243.1" width="50.5" height="60.2" fill="#fff" stroke="#111" stroke-width="1"/>
<line x1="263.9" y1="249.7" x2="284.6" y2="249.7" stroke="#111" stroke-width="1.1"/>
<line x1="263.9" y1="264.6" x2="284.6" y2="264.6" stroke="#1fa860" stroke-width="1.1"/>
<line x1="263.9" y1="279.9" x2="284.6" y2="279.9" stroke="#2a4ab0" stroke-width="1.1"/>
<line x1="263.9" y1="295.1" x2="284.6" y2="295.1" stroke="#f03a3a" stroke-width="1.1"/>
<text transform="translate(290.1 253.29999999999998) scale(0.9091 1)" font-size="10.78" text-anchor="start" font-weight="normal" font-style="normal" fill="#1a1a1a" color="#1a1a1a"><tspan font-style="italic">l</tspan> = <tspan font-style="italic">l</tspan><tspan font-size="7.92" dy="3.2" dx="0">a</tspan></text>
<text transform="translate(290.1 268.20000000000005) scale(0.9091 1)" font-size="10.78" text-anchor="start" font-weight="normal" font-style="normal" fill="#1a1a1a" color="#1a1a1a"><tspan font-style="italic">l</tspan> = <tspan font-style="italic">l</tspan><tspan font-size="7.92" dy="3.2" dx="0">b</tspan></text>
<text transform="translate(290.1 283.5) scale(0.9091 1)" font-size="10.78" text-anchor="start" font-weight="normal" font-style="normal" fill="#1a1a1a" color="#1a1a1a"><tspan font-style="italic">l</tspan> = <tspan font-style="italic">l</tspan><tspan font-size="7.92" dy="3.2" dx="0">c</tspan></text>
<text transform="translate(290.1 298.70000000000005) scale(0.9091 1)" font-size="10.78" text-anchor="start" font-weight="normal" font-style="normal" fill="#1a1a1a" color="#1a1a1a"><tspan font-style="italic">l</tspan> = <tspan font-style="italic">l</tspan><tspan font-size="7.92" dy="3.2" dx="0">d</tspan></text>
<rect x="256.3" y="231.3" width="169.59999999999997" height="142.0" fill="none" stroke="#111" stroke-width="1.2"/>
<text transform="translate(452.4 8.4) scale(1.0000 1)" font-size="13.00" text-anchor="start" font-weight="bold" font-style="normal" fill="#000" color="#000">e</text>
<rect x="496.0" y="3.6" width="146.29999999999995" height="180.20000000000002" fill="#000" stroke="none" stroke-width="1"/>
<rect x="558.9" y="3.6" width="5.5" height="180.20000000000002" fill="url(#es1)" stroke="none" stroke-width="1"/>
<rect x="583.6" y="3.6" width="4.6" height="180.20000000000002" fill="url(#es2)" stroke="none" stroke-width="1"/>
<text transform="translate(514.4 24.1) scale(1.0000 1)" font-size="12.90" text-anchor="start" font-weight="normal" font-style="normal" fill="#ffffff" color="#ffffff">ENZ<tspan font-size="8.00" dy="4.3" dx="0.4">1</tspan></text>
<text transform="translate(558.2 24.1) scale(1.0000 1)" font-size="12.90" text-anchor="start" font-weight="normal" font-style="normal" fill="#ffffff" color="#ffffff">silica</text>
<text transform="translate(600.5 24.1) scale(1.0000 1)" font-size="12.90" text-anchor="start" font-weight="normal" font-style="normal" fill="#ffffff" color="#ffffff">ENZ<tspan font-size="8.00" dy="4.3" dx="0.4">2</tspan></text>
<line x1="535.6" y1="30.8" x2="548.7" y2="38.4" stroke="#ffffff" stroke-width="1"/>
<line x1="609.0" y1="30.4" x2="597.4" y2="38.9" stroke="#ffffff" stroke-width="1"/>
<text transform="translate(503.7 97.6) scale(1.0000 1)" font-size="12.90" text-anchor="start" font-weight="normal" font-style="normal" fill="#ffffff" color="#ffffff">air</text>
<text transform="translate(618.3 97.6) scale(1.0000 1)" font-size="12.90" text-anchor="start" font-weight="normal" font-style="normal" fill="#ffffff" color="#ffffff">air</text>
<text transform="translate(501.8 170.4) scale(1.0000 1)" font-size="16.00" text-anchor="start" font-weight="normal" font-style="italic" fill="#ffffff" color="#ffffff" style="font-family:Liberation Serif">λ</text>
<text transform="translate(510.6 177.0) scale(0.8696 1)" font-size="10.58" text-anchor="start" font-weight="normal" font-style="normal" fill="#ffffff" color="#ffffff">ENZ</text>
<line x1="567.5" y1="161.8" x2="580" y2="161.8" stroke="#ffffff" stroke-width="1.4"/>
<path d="M563.80,161.80 L569.80,158.80 L568.30,161.80 L569.80,164.80 Z" fill="#ffffff"/>
<path d="M583.70,161.80 L577.70,164.80 L579.20,161.80 L577.70,158.80 Z" fill="#ffffff"/>
<text transform="translate(596.6 167.1) scale(1.0000 1)" font-size="13.50" text-anchor="start" font-weight="normal" font-style="italic" fill="#ffffff" color="#ffffff">l</text>
<rect x="649.6" y="3.2" width="8.5" height="173.3" fill="url(#hot)" stroke="#8a8a8a" stroke-width="0.9"/>
<line x1="656.2" y1="150.504" x2="658.1" y2="150.504" stroke="#333" stroke-width="0.8"/>
<line x1="656.2" y1="133.216" x2="658.1" y2="133.216" stroke="#333" stroke-width="0.8"/>
<line x1="656.2" y1="115.92800000000001" x2="658.1" y2="115.92800000000001" stroke="#333" stroke-width="0.8"/>
<line x1="656.2" y1="98.64" x2="658.1" y2="98.64" stroke="#333" stroke-width="0.8"/>
<line x1="656.2" y1="81.352" x2="658.1" y2="81.352" stroke="#333" stroke-width="0.8"/>
<line x1="656.2" y1="64.06400000000001" x2="658.1" y2="64.06400000000001" stroke="#333" stroke-width="0.8"/>
<line x1="656.2" y1="46.775999999999996" x2="658.1" y2="46.775999999999996" stroke="#333" stroke-width="0.8"/>
<line x1="656.2" y1="29.488" x2="658.1" y2="29.488" stroke="#333" stroke-width="0.8"/>
<line x1="656.2" y1="12.2" x2="658.1" y2="12.2" stroke="#333" stroke-width="0.8"/>
<text transform="translate(660.0 153.60399999999998) scale(1.0000 1)" font-size="11.70" text-anchor="start" font-weight="normal" font-style="normal" fill="#1a1a1a" color="#1a1a1a">400</text>
<text transform="translate(660.0 119.028) scale(1.0000 1)" font-size="11.70" text-anchor="start" font-weight="normal" font-style="normal" fill="#1a1a1a" color="#1a1a1a">800</text>
<text transform="translate(660.0 84.452) scale(1.0000 1)" font-size="11.70" text-anchor="start" font-weight="normal" font-style="normal" fill="#1a1a1a" color="#1a1a1a">1200</text>
<text transform="translate(660.0 49.876) scale(1.0000 1)" font-size="11.70" text-anchor="start" font-weight="normal" font-style="normal" fill="#1a1a1a" color="#1a1a1a">1600</text>
<text transform="translate(660.0 15.299999999999999) scale(1.0000 1)" font-size="11.70" text-anchor="start" font-weight="normal" font-style="normal" fill="#1a1a1a" color="#1a1a1a">2000</text>
<text transform="translate(492.4 9.350000000000001) scale(1.0000 1)" font-size="11.40" text-anchor="end" font-weight="normal" font-style="normal" fill="#1a1a1a" color="#1a1a1a">20</text>
<text transform="translate(492.4 53.3) scale(1.0000 1)" font-size="11.40" text-anchor="end" font-weight="normal" font-style="normal" fill="#1a1a1a" color="#1a1a1a">10</text>
<text transform="translate(492.4 97.25) scale(1.0000 1)" font-size="11.40" text-anchor="end" font-weight="normal" font-style="normal" fill="#1a1a1a" color="#1a1a1a">0</text>
<text transform="translate(492.4 141.2) scale(1.0000 1)" font-size="11.40" text-anchor="end" font-weight="normal" font-style="normal" fill="#1a1a1a" color="#1a1a1a">-10</text>
<text transform="translate(492.4 185.14999999999998) scale(1.0000 1)" font-size="11.40" text-anchor="end" font-weight="normal" font-style="normal" fill="#1a1a1a" color="#1a1a1a">-20</text>
<text transform="translate(512.2 197.5) scale(1.0000 1)" font-size="11.70" text-anchor="middle" font-weight="normal" font-style="normal" fill="#1a1a1a" color="#1a1a1a">-0.4</text>
<text transform="translate(549.9 197.5) scale(1.0000 1)" font-size="11.70" text-anchor="middle" font-weight="normal" font-style="normal" fill="#1a1a1a" color="#1a1a1a">0</text>
<text transform="translate(586.6 197.5) scale(1.0000 1)" font-size="11.70" text-anchor="middle" font-weight="normal" font-style="normal" fill="#1a1a1a" color="#1a1a1a">0.4</text>
<text transform="translate(623.5 197.5) scale(1.0000 1)" font-size="11.70" text-anchor="middle" font-weight="normal" font-style="normal" fill="#1a1a1a" color="#1a1a1a">0.8</text>
<text transform="translate(551.9 210.7) scale(1.0000 1)" font-size="12.90" text-anchor="start" font-weight="normal" font-style="normal" fill="#1a1a1a" color="#1a1a1a">x (μm)</text>
<text transform="translate(470.3 94.4) rotate(-90) scale(1.0000 1)" font-size="13.20" text-anchor="middle" font-weight="normal" font-style="normal" fill="#1a1a1a" color="#1a1a1a">Incident angle <tspan font-style="italic">θ</tspan><tspan font-size="8.50" dy="3" dx="0"><tspan font-style="italic">i</tspan></tspan><tspan dy="-3"> (°)</tspan></text>
<text transform="translate(449.4 215.0) scale(0.9091 1)" font-size="14.30" text-anchor="start" font-weight="bold" font-style="normal" fill="#000" color="#000">f</text>
<line x1="493.2" y1="371.8" x2="497.2" y2="371.8" stroke="#1a1a1a" stroke-width="1"/>
<line x1="493.2" y1="360.1" x2="495.4" y2="360.1" stroke="#1a1a1a" stroke-width="1"/>
<line x1="493.2" y1="348.40000000000003" x2="495.4" y2="348.40000000000003" stroke="#1a1a1a" stroke-width="1"/>
<line x1="493.2" y1="336.7" x2="495.4" y2="336.7" stroke="#1a1a1a" stroke-width="1"/>
<line x1="493.2" y1="325.0" x2="497.2" y2="325.0" stroke="#1a1a1a" stroke-width="1"/>
<line x1="493.2" y1="313.3" x2="495.4" y2="313.3" stroke="#1a1a1a" stroke-width="1"/>
<line x1="493.2" y1="301.6" x2="495.4" y2="301.6" stroke="#1a1a1a" stroke-width="1"/>
<line x1="493.2" y1="289.9" x2="495.4" y2="289.9" stroke="#1a1a1a" stroke-width="1"/>
<line x1="493.2" y1="278.2" x2="497.2" y2="278.2" stroke="#1a1a1a" stroke-width="1"/>
<line x1="493.2" y1="266.5" x2="495.4" y2="266.5" stroke="#1a1a1a" stroke-width="1"/>
<line x1="493.2" y1="254.8" x2="495.4" y2="254.8" stroke="#1a1a1a" stroke-width="1"/>
<line x1="493.2" y1="243.1" x2="495.4" y2="243.1" stroke="#1a1a1a" stroke-width="1"/>
<line x1="512.0" y1="373.4" x2="512.0" y2="369.4" stroke="#1a1a1a" stroke-width="1"/>
<line x1="530.75" y1="373.4" x2="530.75" y2="371.2" stroke="#1a1a1a" stroke-width="1"/>
<line x1="549.5" y1="373.4" x2="549.5" y2="369.4" stroke="#1a1a1a" stroke-width="1"/>
<line x1="568.25" y1="373.4" x2="568.25" y2="371.2" stroke="#1a1a1a" stroke-width="1"/>
<line x1="587.0" y1="373.4" x2="587.0" y2="369.4" stroke="#1a1a1a" stroke-width="1"/>
<line x1="605.75" y1="373.4" x2="605.75" y2="371.2" stroke="#1a1a1a" stroke-width="1"/>
<line x1="624.5" y1="373.4" x2="624.5" y2="369.4" stroke="#1a1a1a" stroke-width="1"/>
<line x1="643.25" y1="373.4" x2="643.25" y2="371.2" stroke="#1a1a1a" stroke-width="1"/>
<line x1="662.0" y1="373.4" x2="662.0" y2="369.4" stroke="#1a1a1a" stroke-width="1"/>
<text transform="translate(490.0 376.0) scale(0.9091 1)" font-size="12.87" text-anchor="end" font-weight="normal" font-style="normal" fill="#1a1a1a" color="#1a1a1a">0</text>
<text transform="translate(490.0 329.2) scale(0.9091 1)" font-size="12.87" text-anchor="end" font-weight="normal" font-style="normal" fill="#1a1a1a" color="#1a1a1a">2000</text>
<text transform="translate(490.0 282.4) scale(0.9091 1)" font-size="12.87" text-anchor="end" font-weight="normal" font-style="normal" fill="#1a1a1a" color="#1a1a1a">4000</text>
<text transform="translate(490.0 235.6) scale(0.9091 1)" font-size="12.87" text-anchor="end" font-weight="normal" font-style="normal" fill="#1a1a1a" color="#1a1a1a">6000</text>
<text transform="translate(512.0 386.9) scale(0.9091 1)" font-size="12.87" text-anchor="middle" font-weight="normal" font-style="normal" fill="#1a1a1a" color="#1a1a1a">100.5</text>
<text transform="translate(549.5 386.9) scale(0.9091 1)" font-size="12.87" text-anchor="middle" font-weight="normal" font-style="normal" fill="#1a1a1a" color="#1a1a1a">101</text>
<text transform="translate(587.0 386.9) scale(0.9091 1)" font-size="12.87" text-anchor="middle" font-weight="normal" font-style="normal" fill="#1a1a1a" color="#1a1a1a">101.5</text>
<text transform="translate(624.5 386.9) scale(0.9091 1)" font-size="12.87" text-anchor="middle" font-weight="normal" font-style="normal" fill="#1a1a1a" color="#1a1a1a">102</text>
<text transform="translate(662.0 386.9) scale(0.9091 1)" font-size="12.87" text-anchor="middle" font-weight="normal" font-style="normal" fill="#1a1a1a" color="#1a1a1a">102.5</text>
<text transform="translate(533.3 401.8) scale(0.9091 1)" font-size="14.63" text-anchor="start" font-weight="normal" font-style="normal" fill="#1a1a1a" color="#1a1a1a">Separation <tspan font-style="italic">l</tspan> (μm)</text>
<text transform="translate(459.8 301.5) rotate(-90) scale(0.9091 1)" font-size="13.86" text-anchor="middle" font-weight="normal" font-style="normal" fill="#1a1a1a" color="#1a1a1a">|<tspan font-weight="bold">E</tspan>|<tspan font-size="8.80" dy="-5" dx="0">2</tspan><tspan dy="5">/|</tspan><tspan font-weight="bold">E</tspan><tspan font-size="8.80" dy="3" dx="0">0</tspan><tspan dy="-3">|</tspan><tspan font-size="8.80" dy="-5" dx="0">2</tspan></text>
<polyline points="498.00,366.48 498.94,367.38 499.89,368.22 500.83,368.99 501.78,369.65 502.72,370.19 503.67,370.59 504.61,370.83 505.56,370.90 506.50,370.81 507.44,370.55 508.39,370.14 509.33,369.58 510.28,368.90 511.22,368.13 512.17,367.27 513.11,366.37 514.05,365.46 515.00,364.56 515.94,363.71 516.89,362.92 517.83,362.24 518.78,361.68 519.72,361.26 520.66,361.00 521.61,360.90 522.55,360.97 523.50,361.20 524.44,361.59 525.39,362.12 526.33,362.78 527.28,363.55 528.22,364.39 529.16,365.29 530.11,366.20 531.05,367.10 532.00,367.97 532.94,368.76 533.89,369.46 534.83,370.04 535.77,370.48 536.72,370.77 537.66,370.89 538.61,370.85 539.55,370.65 540.50,370.28 541.44,369.77 542.39,369.12 543.33,368.37 544.27,367.54 545.22,366.65 546.16,365.74 547.11,364.83 548.05,363.96 549.00,363.16 549.94,362.44 550.88,361.84 551.83,361.38 552.77,361.06 553.72,360.91 554.66,360.93 555.61,361.11 556.55,361.45 557.50,361.95 558.44,362.57 559.38,363.30 560.33,364.13 561.27,365.01 562.22,365.92 563.16,366.83 564.11,367.71 565.05,368.53 566.00,369.26 566.94,369.88 567.88,370.36 568.83,370.70 569.77,370.87 570.72,370.88 571.66,370.73 572.61,370.41 573.55,369.94 574.49,369.34 575.44,368.62 576.38,367.81 577.33,366.93 578.27,366.02 579.22,365.11 580.16,364.23 581.11,363.40 582.05,362.65 582.99,362.01 583.94,361.50 584.88,361.14 585.83,360.94 586.77,360.91 587.72,361.04 588.66,361.33 589.60,361.78 590.55,362.36 591.49,363.07 592.44,363.86 593.38,364.73 594.33,365.63 595.27,366.55 596.22,367.44 597.16,368.28 598.10,369.04 599.05,369.70 599.99,370.23 600.94,370.61 601.88,370.84 602.83,370.90 603.77,370.79 604.71,370.52 605.66,370.10 606.60,369.53 607.55,368.85 608.49,368.06 609.44,367.21 610.38,366.31 611.33,365.39 612.27,364.49 613.21,363.64 614.16,362.87 615.10,362.20 616.05,361.65 616.99,361.24 617.94,360.99 618.88,360.90 619.82,360.98 620.77,361.22 621.71,361.63 622.66,362.17 623.60,362.84 624.55,363.61 625.49,364.46 626.43,365.35 627.38,366.27 628.32,367.17 629.27,368.03 630.21,368.82 631.16,369.51 632.10,370.08 633.05,370.51 633.99,370.78 634.93,370.90 635.88,370.84 636.82,370.62 637.77,370.25 638.71,369.72 639.66,369.07 640.60,368.32 641.55,367.48 642.49,366.59 643.43,365.67 644.38,364.77 645.32,363.90 646.27,363.10 647.21,362.39 648.16,361.80 649.10,361.35" fill="none" stroke="#ff0a0a" stroke-width="4.6" stroke-linejoin="round" stroke-linecap="round"/>
<polyline points="498.70,261.98 500.58,249.11 502.45,241.68 504.33,239.85 506.20,242.57 508.08,248.60 509.96,257.18 511.83,268.13 513.71,281.19 515.58,295.32 517.46,308.63 519.34,318.82 521.21,323.91 523.09,322.71 524.96,315.04 526.84,301.83 528.72,285.16 530.59,267.98 532.47,253.43 534.34,243.82 536.22,239.93 538.10,241.09 539.97,245.98 541.85,253.63 543.72,263.69 545.60,276.02 547.48,289.93 549.35,303.81 551.23,315.45 553.10,322.67 554.98,323.94 556.86,318.68 558.73,307.40 560.61,291.73 562.48,274.36 564.36,258.47 566.24,246.80 568.11,240.76 569.99,240.14 571.86,243.76 573.74,250.43 575.62,259.59 577.49,271.09 579.37,284.54 581.24,298.67 583.12,311.44 585.00,320.57 586.87,324.22 588.75,321.44 590.62,312.32 592.50,298.05 594.38,280.96 596.25,264.14 598.13,250.62 600.00,242.37 601.88,239.80 603.76,241.97 605.63,247.59 607.51,255.83 609.38,266.46 611.26,279.26 613.14,293.34 615.01,306.90 616.89,317.66 618.76,323.56 620.64,323.28 622.52,316.48 624.39,303.95 626.27,287.60 628.14,270.29 630.02,255.21 631.90,244.82 633.77,240.15 635.65,240.67 637.52,245.11 639.40,252.41 641.28,262.14 643.15,274.17 645.03,287.93 646.90,301.95 648.78,314.04" fill="none" stroke="#111" stroke-width="0.9" stroke-linejoin="round"/>
<rect x="496.9" y="260.18327968654677" width="3.6" height="3.6" fill="#000" stroke="none" stroke-width="1"/>
<rect x="498.77599999999995" y="247.31488662466916" width="3.6" height="3.6" fill="#000" stroke="none" stroke-width="1"/>
<rect x="500.652" y="239.88107474267085" width="3.6" height="3.6" fill="#000" stroke="none" stroke-width="1"/>
<rect x="502.52799999999996" y="238.04571952336673" width="3.6" height="3.6" fill="#000" stroke="none" stroke-width="1"/>
<rect x="504.404" y="240.77363368776514" width="3.6" height="3.6" fill="#000" stroke="none" stroke-width="1"/>
<rect x="506.28" y="246.79511892248215" width="3.6" height="3.6" fill="#000" stroke="none" stroke-width="1"/>
<rect x="508.156" y="255.37537968106216" width="3.6" height="3.6" fill="#000" stroke="none" stroke-width="1"/>
<rect x="510.032" y="266.33049864784147" width="3.6" height="3.6" fill="#000" stroke="none" stroke-width="1"/>
<rect x="511.90799999999996" y="279.38836354265175" width="3.6" height="3.6" fill="#000" stroke="none" stroke-width="1"/>
<rect x="513.784" y="293.521740392544" width="3.6" height="3.6" fill="#000" stroke="none" stroke-width="1"/>
<rect x="515.6600000000001" y="306.8290984315446" width="3.6" height="3.6" fill="#000" stroke="none" stroke-width="1"/>
<rect x="517.5360000000001" y="317.02081958710966" width="3.6" height="3.6" fill="#000" stroke="none" stroke-width="1"/>
<rect x="519.412" y="322.1112154890441" width="3.6" height="3.6" fill="#000" stroke="none" stroke-width="1"/>
<rect x="521.288" y="320.9102990355824" width="3.6" height="3.6" fill="#000" stroke="none" stroke-width="1"/>
<rect x="523.164" y="313.23986164645294" width="3.6" height="3.6" fill="#000" stroke="none" stroke-width="1"/>
<rect x="525.0400000000001" y="300.03204011933275" width="3.6" height="3.6" fill="#000" stroke="none" stroke-width="1"/>
<rect x="526.916" y="283.35714114918466" width="3.6" height="3.6" fill="#000" stroke="none" stroke-width="1"/>
<rect x="528.792" y="266.17658440673597" width="3.6" height="3.6" fill="#000" stroke="none" stroke-width="1"/>
<rect x="530.668" y="251.62723658010677" width="3.6" height="3.6" fill="#000" stroke="none" stroke-width="1"/>
<rect x="532.544" y="242.02123294320484" width="3.6" height="3.6" fill="#000" stroke="none" stroke-width="1"/>
<rect x="534.4200000000001" y="238.13344952475722" width="3.6" height="3.6" fill="#000" stroke="none" stroke-width="1"/>
<rect x="536.296" y="239.28648059897571" width="3.6" height="3.6" fill="#000" stroke="none" stroke-width="1"/>
<rect x="538.172" y="244.18117288198607" width="3.6" height="3.6" fill="#000" stroke="none" stroke-width="1"/>
<rect x="540.048" y="251.83111274096774" width="3.6" height="3.6" fill="#000" stroke="none" stroke-width="1"/>
<rect x="541.924" y="261.8931625512854" width="3.6" height="3.6" fill="#000" stroke="none" stroke-width="1"/>
<rect x="543.8000000000001" y="274.2219690541188" width="3.6" height="3.6" fill="#000" stroke="none" stroke-width="1"/>
<rect x="545.676" y="288.1287362827578" width="3.6" height="3.6" fill="#000" stroke="none" stroke-width="1"/>
<rect x="547.552" y="302.01412566003046" width="3.6" height="3.6" fill="#000" stroke="none" stroke-width="1"/>
<rect x="549.428" y="313.654476388123" width="3.6" height="3.6" fill="#000" stroke="none" stroke-width="1"/>
<rect x="551.3040000000001" y="320.8741072309356" width="3.6" height="3.6" fill="#000" stroke="none" stroke-width="1"/>
<rect x="553.1800000000001" y="322.14271401582647" width="3.6" height="3.6" fill="#000" stroke="none" stroke-width="1"/>
<rect x="555.056" y="316.8832796837434" width="3.6" height="3.6" fill="#000" stroke="none" stroke-width="1"/>
<rect x="556.932" y="305.59658792468355" width="3.6" height="3.6" fill="#000" stroke="none" stroke-width="1"/>
<rect x="558.808" y="289.92826570451876" width="3.6" height="3.6" fill="#000" stroke="none" stroke-width="1"/>
<rect x="560.6840000000001" y="272.55884813384836" width="3.6" height="3.6" fill="#000" stroke="none" stroke-width="1"/>
<rect x="562.5600000000001" y="256.67067174214446" width="3.6" height="3.6" fill="#000" stroke="none" stroke-width="1"/>
<rect x="564.436" y="245.00347198024707" width="3.6" height="3.6" fill="#000" stroke="none" stroke-width="1"/>
<rect x="566.312" y="238.95587653188568" width="3.6" height="3.6" fill="#000" stroke="none" stroke-width="1"/>
<rect x="568.188" y="238.33565100343364" width="3.6" height="3.6" fill="#000" stroke="none" stroke-width="1"/>
<rect x="570.0640000000001" y="241.95740384747813" width="3.6" height="3.6" fill="#000" stroke="none" stroke-width="1"/>
<rect x="571.94" y="248.63279875691282" width="3.6" height="3.6" fill="#000" stroke="none" stroke-width="1"/>
<rect x="573.816" y="257.7894496646294" width="3.6" height="3.6" fill="#000" stroke="none" stroke-width="1"/>
<rect x="575.692" y="269.2938883638555" width="3.6" height="3.6" fill="#000" stroke="none" stroke-width="1"/>
<rect x="577.568" y="282.73962882092025" width="3.6" height="3.6" fill="#000" stroke="none" stroke-width="1"/>
<rect x="579.4440000000001" y="296.87419786679544" width="3.6" height="3.6" fill="#000" stroke="none" stroke-width="1"/>
<rect x="581.32" y="309.6424520074162" width="3.6" height="3.6" fill="#000" stroke="none" stroke-width="1"/>
<rect x="583.196" y="318.76731924244075" width="3.6" height="3.6" fill="#000" stroke="none" stroke-width="1"/>
<rect x="585.072" y="322.42105626265686" width="3.6" height="3.6" fill="#000" stroke="none" stroke-width="1"/>
<rect x="586.9480000000001" y="319.6440836170048" width="3.6" height="3.6" fill="#000" stroke="none" stroke-width="1"/>
<rect x="588.8240000000001" y="310.51693426948714" width="3.6" height="3.6" fill="#000" stroke="none" stroke-width="1"/>
<rect x="590.7" y="296.247841360252" width="3.6" height="3.6" fill="#000" stroke="none" stroke-width="1"/>
<rect x="592.576" y="279.1596514988974" width="3.6" height="3.6" fill="#000" stroke="none" stroke-width="1"/>
<rect x="594.452" y="262.3385892017546" width="3.6" height="3.6" fill="#000" stroke="none" stroke-width="1"/>
<rect x="596.328" y="248.8151242427191" width="3.6" height="3.6" fill="#000" stroke="none" stroke-width="1"/>
<rect x="598.2040000000001" y="240.57310584925128" width="3.6" height="3.6" fill="#000" stroke="none" stroke-width="1"/>
<rect x="600.08" y="237.99702356949263" width="3.6" height="3.6" fill="#000" stroke="none" stroke-width="1"/>
<rect x="601.956" y="240.16716074395478" width="3.6" height="3.6" fill="#000" stroke="none" stroke-width="1"/>
<rect x="603.832" y="245.7875691148956" width="3.6" height="3.6" fill="#000" stroke="none" stroke-width="1"/>
<rect x="605.7080000000001" y="254.0279200220248" width="3.6" height="3.6" fill="#000" stroke="none" stroke-width="1"/>
<rect x="607.5840000000001" y="264.65589574008544" width="3.6" height="3.6" fill="#000" stroke="none" stroke-width="1"/>
<rect x="609.46" y="277.4590890195884" width="3.6" height="3.6" fill="#000" stroke="none" stroke-width="1"/>
<rect x="611.336" y="291.5392802504958" width="3.6" height="3.6" fill="#000" stroke="none" stroke-width="1"/>
<rect x="613.212" y="305.09909041820725" width="3.6" height="3.6" fill="#000" stroke="none" stroke-width="1"/>
<rect x="615.088" y="315.8609269498697" width="3.6" height="3.6" fill="#000" stroke="none" stroke-width="1"/>
<rect x="616.964" y="321.75971949609163" width="3.6" height="3.6" fill="#000" stroke="none" stroke-width="1"/>
<rect x="618.84" y="321.47593040387727" width="3.6" height="3.6" fill="#000" stroke="none" stroke-width="1"/>
<rect x="620.716" y="314.68258489068904" width="3.6" height="3.6" fill="#000" stroke="none" stroke-width="1"/>
<rect x="622.592" y="302.1516123873015" width="3.6" height="3.6" fill="#000" stroke="none" stroke-width="1"/>
<rect x="624.4680000000001" y="285.7993034037261" width="3.6" height="3.6" fill="#000" stroke="none" stroke-width="1"/>
<rect x="626.344" y="268.49424405770264" width="3.6" height="3.6" fill="#000" stroke="none" stroke-width="1"/>
<rect x="628.22" y="253.40742302672842" width="3.6" height="3.6" fill="#000" stroke="none" stroke-width="1"/>
<rect x="630.096" y="243.0231682301074" width="3.6" height="3.6" fill="#000" stroke="none" stroke-width="1"/>
<rect x="631.972" y="238.34771845191273" width="3.6" height="3.6" fill="#000" stroke="none" stroke-width="1"/>
<rect x="633.848" y="238.8694144353018" width="3.6" height="3.6" fill="#000" stroke="none" stroke-width="1"/>
<rect x="635.724" y="243.3135423629701" width="3.6" height="3.6" fill="#000" stroke="none" stroke-width="1"/>
<rect x="637.6" y="250.6108994784855" width="3.6" height="3.6" fill="#000" stroke="none" stroke-width="1"/>
<rect x="639.476" y="260.33994839224846" width="3.6" height="3.6" fill="#000" stroke="none" stroke-width="1"/>
<rect x="641.3520000000001" y="272.37323108354735" width="3.6" height="3.6" fill="#000" stroke="none" stroke-width="1"/>
<rect x="643.2280000000001" y="286.134515402276" width="3.6" height="3.6" fill="#000" stroke="none" stroke-width="1"/>
<rect x="645.104" y="300.1490811992632" width="3.6" height="3.6" fill="#000" stroke="none" stroke-width="1"/>
<rect x="646.98" y="312.24394734874767" width="3.6" height="3.6" fill="#000" stroke="none" stroke-width="1"/>
<rect x="499.4" y="329.6" width="88.0" height="27.0" fill="#fff" stroke="#555" stroke-width="0.8"/>
<line x1="503.3" y1="337.3" x2="526.5" y2="337.3" stroke="#333" stroke-width="0.9"/>
<rect x="513.4" y="335.7" width="3.2" height="3.2" fill="#000" stroke="none" stroke-width="1"/>
<line x1="503.3" y1="349.8" x2="526.5" y2="349.8" stroke="#ff1010" stroke-width="0.9"/>
<circle cx="515" cy="349.8" r="1.8" fill="#ff0a0a"/>
<text transform="translate(530.1 341.4) scale(0.9091 1)" font-size="12.87" text-anchor="start" font-weight="normal" font-style="normal" fill="#1a1a1a" color="#1a1a1a">outer layer</text>
<text transform="translate(530.1 353.9) scale(0.9091 1)" font-size="12.87" text-anchor="start" font-weight="normal" font-style="normal" fill="#1a1a1a" color="#1a1a1a">inner layer</text>
<rect x="493.2" y="231.4" width="168.8" height="141.99999999999997" fill="none" stroke="#111" stroke-width="1.2"/>
</svg>
</body></html>
